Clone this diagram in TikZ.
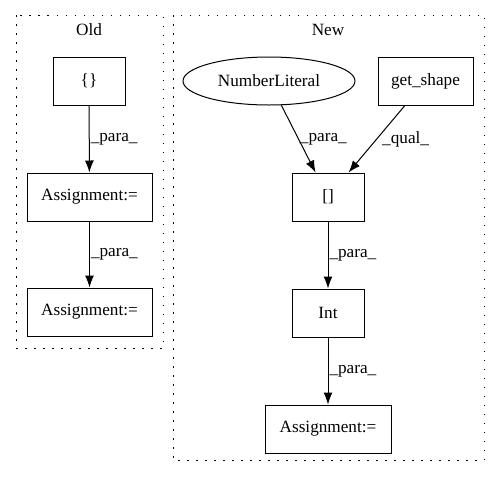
\documentclass[tikz,border=0pt]{standalone}
\usepackage{fontspec}
\setmainfont{Liberation Serif}
\usepackage{tikz}
\usetikzlibrary{shapes.geometric,arrows.meta}

\begin{document}
\begin{tikzpicture}[>={Latex[length=12pt,width=9pt]},x=1pt,y=-1pt,line width=1pt,
    every node/.style={font=\fontsize{17.2}{20}\selectfont},
    box/.style={draw,rectangle,minimum height=48pt,inner sep=0pt},
    lbl/.style={right,inner sep=1pt},
    cluster/.style={line width=0.8pt,dash pattern=on 1.5pt off 7.5pt}]
    \useasboundingbox (0,0) rectangle (500,480);
    \draw[cluster] (16,15) rectangle (163,348);
    \draw[cluster] (173,15) rectangle (484,460);
    \node (oldlbl) at (89,30) {Old};
    \node (newlbl) at (328,30) {New};
    % old
    \node[box,minimum width=72pt] (brace) at (89,81) {\{\}};
    \node[box,minimum width=125pt] (asgA) at (89.5,197) {Assignment:=};
    \node[box,minimum width=125pt] (asgB) at (89.5,312) {Assignment:=};
    \draw[->] (brace) -- node[lbl]{\_para\_} (asgA);
    \draw[->] (asgA) -- node[lbl]{\_para\_} (asgB);
    % new
    \node[draw,ellipse,minimum width=172pt,minimum height=48pt,inner sep=0pt] (numlit) at (269,81) {NumberLiteral};
    \node[box,minimum width=95pt] (getshape) at (425.5,81) {get\_shape};
    \node[box,minimum width=72pt] (index) at (328,197) {[]};
    \node[box,minimum width=72pt] (int) at (328,313) {Int};
    \node[box,minimum width=126pt] (asgC) at (328,429) {Assignment:=};
    \draw[->] (numlit) -- node[lbl]{\_para\_} (index);
    \draw[->] (getshape) -- node[lbl,xshift=4pt]{\_qual\_} (index);
    \draw[->] (index) -- node[lbl]{\_para\_} (int);
    \draw[->] (int) -- node[lbl]{\_para\_} (asgC);
\end{tikzpicture}
\end{document}
